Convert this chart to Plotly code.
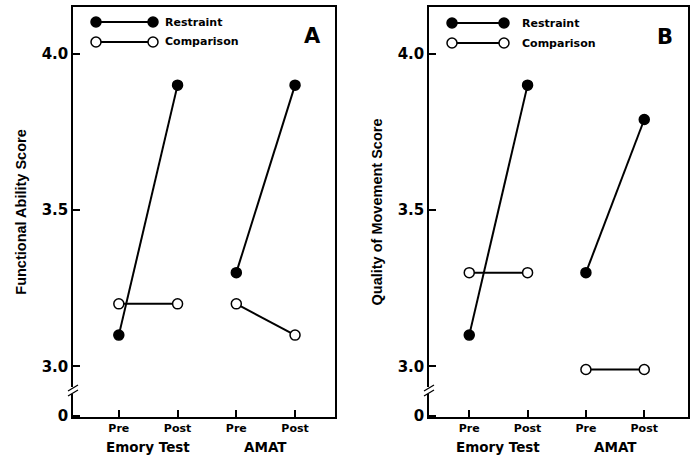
import plotly.graph_objects as go

W, H = 697, 457

# ---- data ----
x_pos = [0, 1, 2, 3]
x_ticks = ["Pre", "Post", "Pre", "Post"]
groups = ["Emory Test", "AMAT"]

# Panel A: Functional Ability Score
a_restraint = [3.1, 3.9, 3.3, 3.9]
a_comparison = [3.2, 3.2, 3.2, 3.1]
# Panel B: Quality of Movement Score
b_restraint = [3.1, 3.9, 3.3, 3.79]
b_comparison = [3.3, 3.3, 2.99, 2.99]

y_ticks_vals = [2.842, 3.0, 3.5, 4.0]
y_ticks_text = ["0", "3.0", "3.5", "4.0"]

FONT = "DejaVu Sans, Verdana, sans-serif"
TFONT = "Liberation Sans, Arial, Helvetica, sans-serif"


def px(xp):
    return xp / W


def py(yp):
    return 1 - yp / H


fig = go.Figure()


def add_series(xa, ya, yvals, filled):
    # draw Pre-Post pairs as separate segments
    for g in range(2):
        xs = x_pos[2 * g:2 * g + 2]
        ys = yvals[2 * g:2 * g + 2]
        fig.add_trace(go.Scatter(
            x=xs, y=ys, xaxis=xa, yaxis=ya, mode="lines+markers",
            line=dict(color="black", width=2),
            marker=dict(size=10, symbol="circle",
                        color="black" if filled else "white",
                        line=dict(color="black", width=1.5)),
            showlegend=False, hoverinfo="skip"))


add_series("x", "y", a_comparison, False)
add_series("x", "y", a_restraint, True)
add_series("x2", "y2", b_comparison, False)
add_series("x2", "y2", b_restraint, True)

domA = [px(73), px(335)]
domB = [px(429), px(688)]
ydom = [py(417), py(7)]

axis_common = dict(
    showgrid=False, zeroline=False, showline=True, linecolor="black",
    linewidth=1.5, mirror=True, ticks="inside", tickcolor="black",
    ticklen=7, tickwidth=1.5, automargin=False,
)

fig.update_layout(
    width=W, height=H, margin=dict(l=0, r=0, t=0, b=0),
    paper_bgcolor="white", plot_bgcolor="white",
    font=dict(family=FONT, color="black"),
    xaxis=dict(domain=domA, range=[-0.78, 3.68], tickvals=x_pos,
               ticktext=x_ticks, anchor="y",
               tickfont=dict(size=11, weight="bold"), **axis_common),
    yaxis=dict(domain=ydom, range=[2.838, 4.15], tickvals=y_ticks_vals,
               ticktext=y_ticks_text, anchor="x",
               tickfont=dict(size=15, weight="bold"),
               title=dict(text="Functional Ability Score",
                          font=dict(size=14.5, family=TFONT, weight="bold"),
                          standoff=12),
               **axis_common),
    xaxis2=dict(domain=domB, range=[-0.69, 3.75], tickvals=x_pos,
                ticktext=x_ticks, anchor="y2",
                tickfont=dict(size=11, weight="bold"), **axis_common),
    yaxis2=dict(domain=ydom, range=[2.838, 4.15], tickvals=y_ticks_vals,
                ticktext=y_ticks_text, anchor="x2",
                tickfont=dict(size=15, weight="bold"),
                title=dict(text="Quality of Movement Score",
                           font=dict(size=14.5, family=TFONT, weight="bold"),
                           standoff=12),
                **axis_common),
)

annotations = []
shapes = []

# group labels under axes
for xa in ("x", "x2"):
    for gi, g in enumerate(groups):
        annotations.append(dict(
            x=2 * gi + 0.5, xref=xa, y=py(447), yref="paper",
            text=g, showarrow=False, font=dict(size=13.5, weight="bold"),
            xanchor="center", yanchor="middle"))

# panel letters
annotations.append(dict(x=px(312), y=py(36), xref="paper", yref="paper",
                        text="A", showarrow=False,
                        font=dict(size=21, weight="bold"),
                        xanchor="center", yanchor="middle"))
annotations.append(dict(x=px(665), y=py(37), xref="paper", yref="paper",
                        text="B", showarrow=False,
                        font=dict(size=21, weight="bold"),
                        xanchor="center", yanchor="middle"))

# legends (decoration)
legend_specs = [
    (96, 153, 163, 22, 42),
    (452, 504, 520, 23, 43),
]
for x0, x1, xt, yr, yc in legend_specs:
    for yy, filled, label in ((yr, True, "Restraint"), (yc, False, "Comparison")):
        shapes.append(dict(type="line", xref="paper", yref="paper",
                           x0=px(x0), x1=px(x1), y0=py(yy), y1=py(yy),
                           line=dict(color="black", width=2)))
        for xc in (x0, x1):
            shapes.append(dict(type="circle", xref="paper", yref="paper",
                               x0=px(xc - 5), x1=px(xc + 5),
                               y0=py(yy + 5), y1=py(yy - 5),
                               fillcolor="black" if filled else "white",
                               line=dict(color="black", width=1.5)))
        annotations.append(dict(x=px(xt), y=py(yy), xref="paper",
                                yref="paper", text=label, showarrow=False,
                                font=dict(size=11, weight="bold"),
                                xanchor="left", yanchor="middle"))

# axis break marks
for xaxis_px in (73, 429):
    shapes.append(dict(type="rect", xref="paper", yref="paper",
                       x0=px(xaxis_px - 2), x1=px(xaxis_px + 2),
                       y0=py(394), y1=py(387), fillcolor="white",
                       line=dict(width=0), layer="above"))
    for yc in (388, 393):
        shapes.append(dict(type="line", xref="paper", yref="paper",
                           x0=px(xaxis_px - 5), x1=px(xaxis_px + 5),
                           y0=py(yc + 3), y1=py(yc - 3),
                           line=dict(color="black", width=1.3)))

fig.update_layout(annotations=annotations, shapes=shapes)

fig.write_html("out.html")
